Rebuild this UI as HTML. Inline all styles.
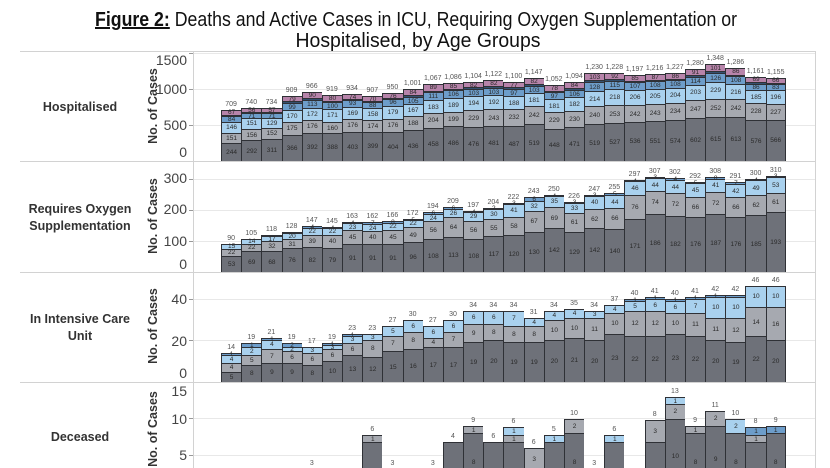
<!DOCTYPE html>
<html><head><meta charset="utf-8">
<style>
html,body{margin:0;padding:0;width:830px;height:468px;overflow:hidden;background:#fff}
body{position:relative;font-family:"Liberation Sans",sans-serif}
svg{position:absolute;left:0;top:0}
.pn{position:absolute;left:221px;width:565px;display:flex;align-items:flex-end}
.c{flex:1 1 0;min-width:0;display:flex;flex-direction:column;justify-content:flex-end}
.c i{display:block;font-style:normal;font-size:7px;line-height:8px;margin-bottom:1px;text-align:center;color:#555;white-space:nowrap}
.c b{display:block;box-sizing:border-box;height:calc(var(--v) * var(--k));line-height:calc(var(--v) * var(--k));border-top:1px solid #2f3136;border-left:1px solid #2f3136;font-weight:normal;font-size:6.5px;color:#2a2a2a;text-align:center;white-space:nowrap;overflow:visible}
.c:last-child b{border-right:1px solid #2f3136}
.dp .d{height:calc(var(--v) * var(--k) - 24px);line-height:calc(var(--v) * var(--k) - 50px);padding-top:25px}
.dp b.cut{height:calc(var(--v) * var(--k) - 2px)}
.d{background:#6e7179}
.g{background:#a6a9b0}
.lb{background:#a9d1ee}
.mb{background:#6d9dca}
.nv{background:#34506f}
.pk{background:#b784aa}
</style></head><body>
<svg width="830" height="468" font-family="Liberation Sans, sans-serif">
<text x="416" y="26" text-anchor="middle" font-size="20" textLength="642" lengthAdjust="spacingAndGlyphs" fill="#111"><tspan font-weight="bold" text-decoration="underline">Figure 2:</tspan> Deaths and Active Cases in ICU, Requiring Oxygen Supplementation or</text>
<text x="418" y="47" text-anchor="middle" font-size="20" textLength="245" lengthAdjust="spacingAndGlyphs" fill="#111">Hospitalised, by Age Groups</text>
<g stroke="#e8e8e8" stroke-width="1">
<line x1="193" y1="53.5" x2="815" y2="53.5"/><line x1="193" y1="89.5" x2="815" y2="89.5"/><line x1="193" y1="125.5" x2="815" y2="125.5"/>
<line x1="193" y1="179.5" x2="815" y2="179.5"/><line x1="193" y1="210.5" x2="815" y2="210.5"/><line x1="193" y1="241.5" x2="815" y2="241.5"/>
<line x1="193" y1="299.5" x2="815" y2="299.5"/><line x1="193" y1="340.5" x2="815" y2="340.5"/>
<line x1="193" y1="418.5" x2="815" y2="418.5"/><line x1="193" y1="455.5" x2="815" y2="455.5"/>
</g>
<g stroke="#d2d2d2" stroke-width="1">
<line x1="20" y1="51.5" x2="816" y2="51.5"/>
<line x1="20" y1="161.5" x2="816" y2="161.5"/>
<line x1="20" y1="272.5" x2="816" y2="272.5"/>
<line x1="20" y1="382.5" x2="816" y2="382.5"/>
<line x1="193.5" y1="51" x2="193.5" y2="468"/>
<line x1="815.5" y1="51" x2="815.5" y2="468"/>
</g>
<g stroke="#999" stroke-width="1">
<line x1="189" y1="53.5" x2="193" y2="53.5"/><line x1="189" y1="89.5" x2="193" y2="89.5"/><line x1="189" y1="125.5" x2="193" y2="125.5"/>
<line x1="189" y1="179.5" x2="193" y2="179.5"/><line x1="189" y1="210.5" x2="193" y2="210.5"/><line x1="189" y1="241.5" x2="193" y2="241.5"/>
<line x1="189" y1="299.5" x2="193" y2="299.5"/><line x1="189" y1="340.5" x2="193" y2="340.5"/>
<line x1="189" y1="418.5" x2="193" y2="418.5"/><line x1="189" y1="455.5" x2="193" y2="455.5"/>
</g>
<g font-size="14" fill="#444" text-anchor="end">
<text x="187" y="65">1500</text><text x="187" y="94">1000</text><text x="187" y="130">500</text><text x="187" y="157">0</text>
<text x="187" y="183">300</text><text x="187" y="214">200</text><text x="187" y="246">100</text><text x="187" y="269">0</text>
<text x="187" y="304">40</text><text x="187" y="346">20</text><text x="187" y="378">0</text>
<text x="187" y="396">15</text><text x="187" y="424">10</text><text x="187" y="460">5</text>
</g>
<g font-size="12.5" font-weight="bold" fill="#333" text-anchor="middle">
<text x="80" y="111">Hospitalised</text>
<text x="80" y="213">Requires Oxygen</text>
<text x="80" y="230">Supplementation</text>
<text x="80" y="323">In Intensive Care</text>
<text x="80" y="340">Unit</text>
<text x="80" y="441">Deceased</text>
<text transform="translate(157,106) rotate(-90)">No. of Cases</text>
<text transform="translate(157,216) rotate(-90)">No. of Cases</text>
<text transform="translate(157,326) rotate(-90)">No. of Cases</text>
<text transform="translate(157,429) rotate(-90)">No. of Cases</text>
</g>
</svg>

<div class="pn" style="top:11px;height:150px;--k:0.072px">
<div class=c><i>709</i><b class=pk style=--v:67>67</b><b class=nv style=--v:17></b><b class=mb style=--v:84>84</b><b class=lb style=--v:146>146</b><b class=g style=--v:151>151</b><b class=d style=--v:244>244</b></div>
<div class=c><i>740</i><b class=pk style=--v:56>56</b><b class=nv style=--v:14></b><b class=mb style=--v:71>71</b><b class=lb style=--v:151>151</b><b class=g style=--v:156>156</b><b class=d style=--v:292>292</b></div>
<div class=c><i>734</i><b class=pk style=--v:57>57</b><b class=nv style=--v:14></b><b class=mb style=--v:71>71</b><b class=lb style=--v:129>129</b><b class=g style=--v:152>152</b><b class=d style=--v:311>311</b></div>
<div class=c><i>909</i><b class=pk style=--v:79>79</b><b class=nv style=--v:20></b><b class=mb style=--v:99>99</b><b class=lb style=--v:170>170</b><b class=g style=--v:175>175</b><b class=d style=--v:366>366</b></div>
<div class=c><i>966</i><b class=pk style=--v:90>90</b><b class=nv style=--v:23></b><b class=mb style=--v:113>113</b><b class=lb style=--v:172>172</b><b class=g style=--v:176>176</b><b class=d style=--v:392>392</b></div>
<div class=c><i>919</i><b class=pk style=--v:80>80</b><b class=nv style=--v:20></b><b class=mb style=--v:100>100</b><b class=lb style=--v:171>171</b><b class=g style=--v:160>160</b><b class=d style=--v:388>388</b></div>
<div class=c><i>934</i><b class=pk style=--v:74>74</b><b class=nv style=--v:19></b><b class=mb style=--v:93>93</b><b class=lb style=--v:169>169</b><b class=g style=--v:176>176</b><b class=d style=--v:403>403</b></div>
<div class=c><i>907</i><b class=pk style=--v:70>70</b><b class=nv style=--v:18></b><b class=mb style=--v:88>88</b><b class=lb style=--v:158>158</b><b class=g style=--v:174>174</b><b class=d style=--v:399>399</b></div>
<div class=c><i>950</i><b class=pk style=--v:76>76</b><b class=nv style=--v:19></b><b class=mb style=--v:96>96</b><b class=lb style=--v:179>179</b><b class=g style=--v:176>176</b><b class=d style=--v:404>404</b></div>
<div class=c><i>1,001</i><b class=pk style=--v:84>84</b><b class=nv style=--v:21></b><b class=mb style=--v:105>105</b><b class=lb style=--v:167>167</b><b class=g style=--v:188>188</b><b class=d style=--v:436>436</b></div>
<div class=c><i>1,067</i><b class=pk style=--v:89>89</b><b class=nv style=--v:22></b><b class=mb style=--v:111>111</b><b class=lb style=--v:183>183</b><b class=g style=--v:204>204</b><b class=d style=--v:458>458</b></div>
<div class=c><i>1,086</i><b class=pk style=--v:85>85</b><b class=nv style=--v:21></b><b class=mb style=--v:106>106</b><b class=lb style=--v:189>189</b><b class=g style=--v:199>199</b><b class=d style=--v:486>486</b></div>
<div class=c><i>1,104</i><b class=pk style=--v:82>82</b><b class=nv style=--v:20></b><b class=mb style=--v:103>103</b><b class=lb style=--v:194>194</b><b class=g style=--v:229>229</b><b class=d style=--v:476>476</b></div>
<div class=c><i>1,122</i><b class=pk style=--v:82>82</b><b class=nv style=--v:21></b><b class=mb style=--v:103>103</b><b class=lb style=--v:192>192</b><b class=g style=--v:243>243</b><b class=d style=--v:481>481</b></div>
<div class=c><i>1,100</i><b class=pk style=--v:77>77</b><b class=nv style=--v:19></b><b class=mb style=--v:97>97</b><b class=lb style=--v:188>188</b><b class=g style=--v:232>232</b><b class=d style=--v:487>487</b></div>
<div class=c><i>1,147</i><b class=pk style=--v:82>82</b><b class=nv style=--v:20></b><b class=mb style=--v:103>103</b><b class=lb style=--v:181>181</b><b class=g style=--v:242>242</b><b class=d style=--v:519>519</b></div>
<div class=c><i>1,052</i><b class=pk style=--v:78>78</b><b class=nv style=--v:19></b><b class=mb style=--v:97>97</b><b class=lb style=--v:181>181</b><b class=g style=--v:229>229</b><b class=d style=--v:448>448</b></div>
<div class=c><i>1,094</i><b class=pk style=--v:84>84</b><b class=nv style=--v:21></b><b class=mb style=--v:106>106</b><b class=lb style=--v:182>182</b><b class=g style=--v:230>230</b><b class=d style=--v:471>471</b></div>
<div class=c><i>1,230</i><b class=pk style=--v:103>103</b><b class=nv style=--v:26></b><b class=mb style=--v:128>128</b><b class=lb style=--v:214>214</b><b class=g style=--v:240>240</b><b class=d style=--v:519>519</b></div>
<div class=c><i>1,228</i><b class=pk style=--v:92>92</b><b class=nv style=--v:23></b><b class=mb style=--v:115>115</b><b class=lb style=--v:218>218</b><b class=g style=--v:253>253</b><b class=d style=--v:527>527</b></div>
<div class=c><i>1,197</i><b class=pk style=--v:85>85</b><b class=nv style=--v:21></b><b class=mb style=--v:107>107</b><b class=lb style=--v:206>206</b><b class=g style=--v:242>242</b><b class=d style=--v:536>536</b></div>
<div class=c><i>1,216</i><b class=pk style=--v:87>87</b><b class=nv style=--v:22></b><b class=mb style=--v:108>108</b><b class=lb style=--v:205>205</b><b class=g style=--v:243>243</b><b class=d style=--v:551>551</b></div>
<div class=c><i>1,227</i><b class=pk style=--v:86>86</b><b class=nv style=--v:21></b><b class=mb style=--v:108>108</b><b class=lb style=--v:204>204</b><b class=g style=--v:234>234</b><b class=d style=--v:574>574</b></div>
<div class=c><i>1,280</i><b class=pk style=--v:91>91</b><b class=nv style=--v:23></b><b class=mb style=--v:114>114</b><b class=lb style=--v:203>203</b><b class=g style=--v:247>247</b><b class=d style=--v:602>602</b></div>
<div class=c><i>1,348</i><b class=pk style=--v:101>101</b><b class=nv style=--v:25></b><b class=mb style=--v:126>126</b><b class=lb style=--v:229>229</b><b class=g style=--v:252>252</b><b class=d style=--v:615>615</b></div>
<div class=c><i>1,286</i><b class=pk style=--v:86>86</b><b class=nv style=--v:21></b><b class=mb style=--v:108>108</b><b class=lb style=--v:216>216</b><b class=g style=--v:242>242</b><b class=d style=--v:613>613</b></div>
<div class=c><i>1,161</i><b class=pk style=--v:69>69</b><b class=nv style=--v:17></b><b class=mb style=--v:86>86</b><b class=lb style=--v:185>185</b><b class=g style=--v:228>228</b><b class=d style=--v:576>576</b></div>
<div class=c><i>1,155</i><b class=pk style=--v:66>66</b><b class=nv style=--v:17></b><b class=mb style=--v:83>83</b><b class=lb style=--v:196>196</b><b class=g style=--v:227>227</b><b class=d style=--v:566>566</b></div>
</div>

<div class="pn" style="top:162px;height:110px;--k:0.31px">
<div class=c><i>90</i><b class=lb style=--v:15>15</b><b class=g style=--v:22>22</b><b class=d style=--v:53>53</b></div>
<div class=c><i>105</i><b class=lb style=--v:14>14</b><b class=g style=--v:22>22</b><b class=d style=--v:69>69</b></div>
<div class=c><i>118</i><b class=mb style=--v:1></b><b class=lb style=--v:17>17</b><b class=g style=--v:32>32</b><b class=d style=--v:68>68</b></div>
<div class=c><i>128</i><b class=mb style=--v:1></b><b class=lb style=--v:20>20</b><b class=g style=--v:31>31</b><b class=d style=--v:76>76</b></div>
<div class=c><i>147</i><b class=mb style=--v:4>4</b><b class=lb style=--v:22>22</b><b class=g style=--v:39>39</b><b class=d style=--v:82>82</b></div>
<div class=c><i>145</i><b class=mb style=--v:4>4</b><b class=lb style=--v:22>22</b><b class=g style=--v:40>40</b><b class=d style=--v:79>79</b></div>
<div class=c><i>163</i><b class=mb style=--v:4>4</b><b class=lb style=--v:23>23</b><b class=g style=--v:45>45</b><b class=d style=--v:91>91</b></div>
<div class=c><i>162</i><b class=mb style=--v:7>7</b><b class=lb style=--v:24>24</b><b class=g style=--v:40>40</b><b class=d style=--v:91>91</b></div>
<div class=c><i>166</i><b class=mb style=--v:8>8</b><b class=lb style=--v:22>22</b><b class=g style=--v:45>45</b><b class=d style=--v:91>91</b></div>
<div class=c><i>172</i><b class=mb style=--v:5>5</b><b class=lb style=--v:22>22</b><b class=g style=--v:49>49</b><b class=d style=--v:96>96</b></div>
<div class=c><i>194</i><b class=mb style=--v:6>6</b><b class=lb style=--v:24>24</b><b class=g style=--v:56>56</b><b class=d style=--v:108>108</b></div>
<div class=c><i>209</i><b class=mb style=--v:6>6</b><b class=lb style=--v:26>26</b><b class=g style=--v:64>64</b><b class=d style=--v:113>113</b></div>
<div class=c><i>197</i><b class=mb style=--v:4>4</b><b class=lb style=--v:29>29</b><b class=g style=--v:56>56</b><b class=d style=--v:108>108</b></div>
<div class=c><i>204</i><b class=mb style=--v:2>2</b><b class=lb style=--v:30>30</b><b class=g style=--v:55>55</b><b class=d style=--v:117>117</b></div>
<div class=c><i>222</i><b class=mb style=--v:3>3</b><b class=lb style=--v:41>41</b><b class=g style=--v:58>58</b><b class=d style=--v:120>120</b></div>
<div class=c><i>243</i><b class=mb style=--v:14>6</b><b class=lb style=--v:32>32</b><b class=g style=--v:67>67</b><b class=d style=--v:130>130</b></div>
<div class=c><i>250</i><b class=mb style=--v:4>4</b><b class=lb style=--v:35>35</b><b class=g style=--v:69>69</b><b class=d style=--v:142>142</b></div>
<div class=c><i>226</i><b class=mb style=--v:3>3</b><b class=lb style=--v:33>33</b><b class=g style=--v:61>61</b><b class=d style=--v:129>129</b></div>
<div class=c><i>247</i><b class=mb style=--v:3>3</b><b class=lb style=--v:40>40</b><b class=g style=--v:62>62</b><b class=d style=--v:142>142</b></div>
<div class=c><i>255</i><b class=mb style=--v:5>5</b><b class=lb style=--v:44>44</b><b class=g style=--v:66>66</b><b class=d style=--v:140>140</b></div>
<div class=c><i>297</i><b class=mb style=--v:4>4</b><b class=lb style=--v:46>46</b><b class=g style=--v:76>76</b><b class=d style=--v:171>171</b></div>
<div class=c><i>307</i><b class=mb style=--v:3>3</b><b class=lb style=--v:44>44</b><b class=g style=--v:74>74</b><b class=d style=--v:186>186</b></div>
<div class=c><i>302</i><b class=mb style=--v:4>4</b><b class=lb style=--v:44>44</b><b class=g style=--v:72>72</b><b class=d style=--v:182>182</b></div>
<div class=c><i>292</i><b class=mb style=--v:5>5</b><b class=lb style=--v:45>45</b><b class=g style=--v:66>66</b><b class=d style=--v:176>176</b></div>
<div class=c><i>308</i><b class=mb style=--v:8>8</b><b class=lb style=--v:41>41</b><b class=g style=--v:72>72</b><b class=d style=--v:187>187</b></div>
<div class=c><i>291</i><b class=mb style=--v:7>7</b><b class=lb style=--v:42>42</b><b class=g style=--v:66>66</b><b class=d style=--v:176>176</b></div>
<div class=c><i>300</i><b class=mb style=--v:4>4</b><b class=lb style=--v:49>49</b><b class=g style=--v:62>62</b><b class=d style=--v:185>185</b></div>
<div class=c><i>310</i><b class=mb style=--v:3>3</b><b class=lb style=--v:53>53</b><b class=g style=--v:61>61</b><b class=d style=--v:193>193</b></div>
</div>

<div class="pn" style="top:272px;height:110px;--k:2.08px">
<div class=c><i>14</i><b class=mb style=--v:1>1</b><b class=lb style=--v:4>4</b><b class=g style=--v:4>4</b><b class=d style=--v:5>5</b></div>
<div class=c><i>19</i><b class=mb style=--v:2>1</b><b class=lb style=--v:4>2</b><b class=g style=--v:5>5</b><b class=d style=--v:8>8</b></div>
<div class=c><i>21</i><b class=mb style=--v:1>1</b><b class=lb style=--v:4>4</b><b class=g style=--v:7>7</b><b class=d style=--v:9>9</b></div>
<div class=c><i>19</i><b class=mb style=--v:2>2</b><b class=lb style=--v:2>2</b><b class=g style=--v:6>6</b><b class=d style=--v:9>9</b></div>
<div class=c><i>17</i><b class=lb style=--v:3>3</b><b class=g style=--v:6>6</b><b class=d style=--v:8>8</b></div>
<div class=c><i>19</i><b class=mb style=--v:1>1</b><b class=lb style=--v:2>3</b><b class=g style=--v:6>6</b><b class=d style=--v:10>10</b></div>
<div class=c><i>23</i><b class=mb style=--v:1>1</b><b class=lb style=--v:3>3</b><b class=g style=--v:6>6</b><b class=d style=--v:13>13</b></div>
<div class=c><i>23</i><b class=lb style=--v:3>3</b><b class=g style=--v:8>8</b><b class=d style=--v:12>12</b></div>
<div class=c><i>27</i><b class=lb style=--v:5>5</b><b class=g style=--v:7>7</b><b class=d style=--v:15>15</b></div>
<div class=c><i>30</i><b class=lb style=--v:6>6</b><b class=g style=--v:8>8</b><b class=d style=--v:16>16</b></div>
<div class=c><i>27</i><b class=lb style=--v:6>6</b><b class=g style=--v:4>4</b><b class=d style=--v:17>17</b></div>
<div class=c><i>30</i><b class=lb style=--v:6>6</b><b class=g style=--v:7>7</b><b class=d style=--v:17>17</b></div>
<div class=c><i>34</i><b class=lb style=--v:6>6</b><b class=g style=--v:9>9</b><b class=d style=--v:19>19</b></div>
<div class=c><i>34</i><b class=lb style=--v:6>6</b><b class=g style=--v:8>8</b><b class=d style=--v:20>20</b></div>
<div class=c><i>34</i><b class=lb style=--v:7>7</b><b class=g style=--v:8>8</b><b class=d style=--v:19>19</b></div>
<div class=c><i>31</i><b class=lb style=--v:4>4</b><b class=g style=--v:8>8</b><b class=d style=--v:19>19</b></div>
<div class=c><i>34</i><b class=lb style=--v:4>4</b><b class=g style=--v:10>10</b><b class=d style=--v:20>20</b></div>
<div class=c><i>35</i><b class=lb style=--v:4>4</b><b class=g style=--v:10>10</b><b class=d style=--v:21>21</b></div>
<div class=c><i>34</i><b class=lb style=--v:3>3</b><b class=g style=--v:11>11</b><b class=d style=--v:20>20</b></div>
<div class=c><i>37</i><b class=lb style=--v:4>4</b><b class=g style=--v:10>10</b><b class=d style=--v:23>23</b></div>
<div class=c><i>40</i><b class=mb style=--v:1>1</b><b class=lb style=--v:5>5</b><b class=g style=--v:12>12</b><b class=d style=--v:22>22</b></div>
<div class=c><i>41</i><b class=mb style=--v:1>1</b><b class=lb style=--v:6>6</b><b class=g style=--v:12>12</b><b class=d style=--v:22>22</b></div>
<div class=c><i>40</i><b class=mb style=--v:1>1</b><b class=lb style=--v:6>6</b><b class=g style=--v:10>10</b><b class=d style=--v:23>23</b></div>
<div class=c><i>41</i><b class=mb style=--v:1>1</b><b class=lb style=--v:7>7</b><b class=g style=--v:11>11</b><b class=d style=--v:22>22</b></div>
<div class=c><i>42</i><b class=mb style=--v:1>1</b><b class=lb style=--v:10>10</b><b class=g style=--v:11>11</b><b class=d style=--v:20>20</b></div>
<div class=c><i>42</i><b class=mb style=--v:1></b><b class=lb style=--v:10>10</b><b class=g style=--v:12>12</b><b class=d style=--v:19>19</b></div>
<div class=c><i>46</i><b class=lb style=--v:10>10</b><b class=g style=--v:14>14</b><b class=d style=--v:22>22</b></div>
<div class=c><i>46</i><b class=lb style=--v:10>10</b><b class=g style=--v:16>16</b><b class=d style=--v:20>20</b></div>
</div>

<div class="pn dp" style="top:382px;height:86px;--k:7.33px">
<div class=c></div>
<div class=c></div>
<div class=c></div>
<div class=c></div>
<div class=c><i style="margin-bottom:0">3</i></div>
<div class=c></div>
<div class=c></div>
<div class=c><i>6</i><b class=g style=--v:1>1</b><b class=d style=--v:5></b></div>
<div class=c><i style="margin-bottom:0">3</i></div>
<div class=c></div>
<div class=c><i style="margin-bottom:0">3</i></div>
<div class=c><i>4</i><b class=d style=--v:4></b></div>
<div class=c><i>9</i><b class=g style=--v:1>1</b><b class=d style=--v:8>8</b></div>
<div class=c><i>6</i><b class=d style=--v:6></b></div>
<div class=c><i>6</i><b class=lb style=--v:1>1</b><b class=g style=--v:1>1</b><b class=d style=--v:4></b></div>
<div class=c><i>6</i><b class="g cut" style=--v:3>3</b></div>
<div class=c><i>5</i><b class=lb style=--v:1>1</b><b class=d style=--v:4></b></div>
<div class=c><i>10</i><b class=g style=--v:2>2</b><b class=d style=--v:8>8</b></div>
<div class=c><i style="margin-bottom:0">3</i></div>
<div class=c><i>6</i><b class=lb style=--v:1>1</b><b class=d style=--v:5></b></div>
<div class=c></div>
<div class=c><i>8</i><b class=g style=--v:3>3</b><b class=d style=--v:5></b></div>
<div class=c><i>13</i><b class=lb style=--v:1>1</b><b class=g style=--v:2>2</b><b class=d style=--v:10>10</b></div>
<div class=c><i>9</i><b class=g style=--v:1>1</b><b class=d style=--v:8>8</b></div>
<div class=c><i>11</i><b class=g style=--v:2>2</b><b class=d style=--v:9>9</b></div>
<div class=c><i>10</i><b class=lb style=--v:2>2</b><b class=d style=--v:8>8</b></div>
<div class=c><i>8</i><b class=mb style=--v:1>1</b><b class=g style=--v:1>1</b><b class=d style=--v:6></b></div>
<div class=c><i>9</i><b class=mb style=--v:1>1</b><b class=d style=--v:8>8</b></div>
</div>
</body></html>
